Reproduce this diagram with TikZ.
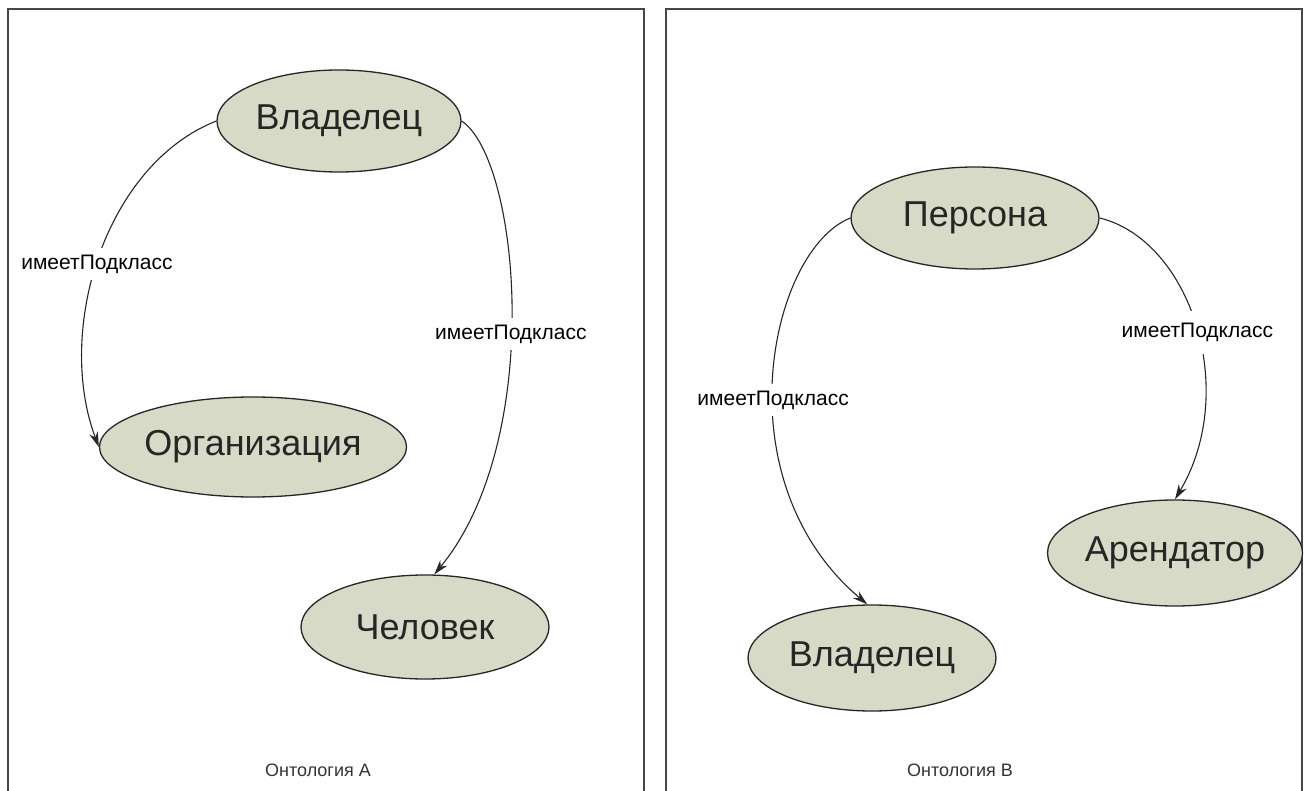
\documentclass[tikz,border=0pt]{standalone}
\usepackage{fontspec}
\setmainfont{Liberation Sans}
\usepackage{tikz}
\usetikzlibrary{shapes, arrows.meta}
\definecolor{klassfill}{RGB}{216,218,200}
\definecolor{ramka}{RGB}{70,70,70}

\begin{document}
\begin{tikzpicture}[x=1pt,y=-1pt]
            \tikzstyle{klass}=[ellipse, draw=black!85, line width=1.3pt, fill=klassfill, inner sep=0pt, text=black!85, font=\fontsize{36}{40}\selectfont]
            \tikzstyle{podklass}=[draw=black!85, line width=1.1pt, -{Stealth[length=15pt,width=9pt]}]
            \tikzstyle{metka}=[fill=white, inner xsep=4pt, inner ysep=7pt, font=\fontsize{21}{24}\selectfont]
            \tikzstyle{podpis}=[text=black!80, font=\fontsize{18}{21}\selectfont]
            \tikzstyle{ramka}=[draw=ramka, line width=1.6pt]
            \useasboundingbox (0,0) rectangle (1304,791);
            \draw[ramka] (8,791) -- (8,9) -- (644,9) -- (644,791);
            \draw[ramka] (666,791) -- (666,9) -- (1302,9) -- (1302,791);
            \node[klass, minimum width=244pt, minimum height=102pt] (vladA) at (339,121) {Владелец};
            \node[klass, minimum width=286pt, minimum height=100pt] (org) at (253,447) {Организация};
            \node[klass, minimum width=248pt, minimum height=104pt] (chel) at (425,627) {Человек};
            \node[klass, minimum width=248pt, minimum height=102pt] (pers) at (975,218) {Персона};
            \node[klass, minimum width=246pt, minimum height=106pt] (arend) at (1175,553) {Арендатор};
            \node[klass, minimum width=248pt, minimum height=106pt] (vladB) at (872,658) {Владелец};
            \node[podpis] (ontA) at (318,770) {Онтология A};
            \node[podpis] (ontB) at (960,770) {Онтология B};
            \draw[podklass] (vladA.west) .. controls (105,165) and (55,330) .. (org.west)
                node[metka, pos=0.52] (m1) {имеетПодкласс};
            \draw[podklass] (vladA.east) .. controls (520,160) and (545,440) .. (chel.80)
                node[metka, pos=0.54] (m2) {имеетПодкласс};
            \draw[podklass] (pers.west) .. controls (770,250) and (720,480) .. (vladB.95)
                node[metka, pos=0.55] (m3) {имеетПодкласс};
            \draw[podklass] (pers.east) .. controls (1190,240) and (1240,390) .. (arend.north)
                node[metka, pos=0.52, inner ysep=12pt] (m4) {имеетПодкласс};
\end{tikzpicture}
\end{document}
